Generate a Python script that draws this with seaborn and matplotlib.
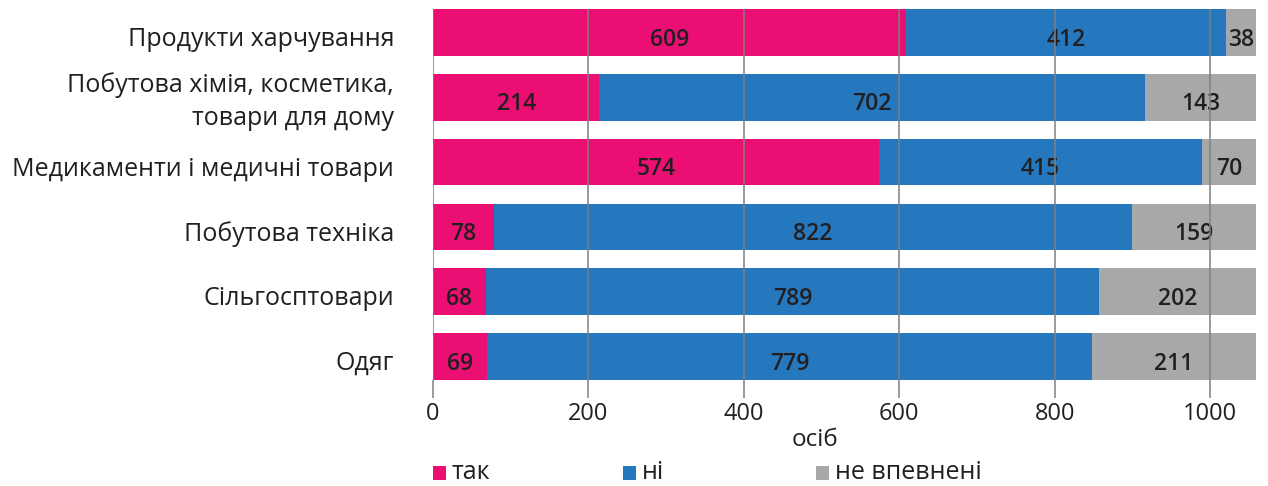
import numpy as np
import pandas as pd
import matplotlib
matplotlib.use("Agg")
import matplotlib.pyplot as plt
import matplotlib.transforms as mtransforms
from matplotlib.patches import Rectangle
import seaborn as sns

categories = ["Продукти харчування", "Побутова хімія, косметика,\nтовари для дому",
              "Медикаменти і медичні товари", "Побутова техніка", "Сільгосптовари", "Одяг"]
yes_vals = [609, 214, 574, 78, 68, 69]
no_vals = [412, 702, 415, 822, 789, 779]
unsure_vals = [38, 143, 70, 159, 202, 211]
series_names = ["так", "ні", "не впевнені"]
colors = ["#EC0F73", "#2577BE", "#A8A8AB"]
x_ticks = [0, 200, 400, 600, 800, 1000]

sns.set_theme(style="white")
plt.rcParams['font.family'] = ['Open Sans', 'DejaVu Sans']
TXT = "#231F20"

df = pd.DataFrame({"cat": categories, "yes": yes_vals, "no": no_vals, "unsure": unsure_vals})
df["c1"] = df["yes"]
df["c2"] = df["yes"] + df["no"]
df["c3"] = df["c2"] + df["unsure"]

fig = plt.figure(figsize=(12.68, 4.86), dpi=100)
ax = fig.add_axes([433/1268, 1-379.8/486, (1256-433)/1268, (379.8-9.2)/486])

for col, c in zip(["c3", "c2", "c1"], colors[::-1]):
    sns.barplot(data=df, y="cat", x=col, color=c, orient="h", width=0.72,
                saturation=1, ax=ax, zorder=1, linewidth=0)

down = mtransforms.ScaledTranslation(0, -3/72, fig.dpi_scale_trans)
for i, row in df.iterrows():
    for left, v in [(0, row["yes"]), (row["c1"], row["no"]), (row["c2"], row["unsure"])]:
        ax.text(left + v / 2, i, str(v), ha="center", va="center_baseline", fontsize=16.5,
                fontweight="semibold", color=TXT, zorder=2, transform=ax.transData + down)

ax.set_xlim(0, df["c3"].max())
ax.set_ylim(len(categories) - 1 + 0.36, -0.36)
ax.set_xticks(x_ticks)
ax.set_xticklabels([str(t) for t in x_ticks], fontsize=17, color=TXT)
ax.set_yticks(range(len(categories)))
ax.set_yticklabels(categories, fontsize=18, color=TXT, linespacing=1.4)
ax.tick_params(axis="y", length=0, pad=28)
ax.tick_params(axis="x", length=13, width=1.1, color="#808080", pad=3, bottom=True)
ax.grid(axis="x", color="#808080", linewidth=1.1, zorder=3)
ax.grid(axis="y", visible=False)
ax.set_axisbelow(False)
for s in ax.spines.values():
    s.set_visible(False)
ax.set_ylabel("")
ax.set_xlabel("")
for t in ax.get_yticklabels():
    t.set_ha("right")
    if "\n" in t.get_text():
        t.set_va("center")
    else:
        t.set_va("center_baseline")
    t.set_transform(t.get_transform() + down)

fig.text(815/1268, 1-440/486, "осіб", ha="center", va="center", fontsize=17.5, color=TXT)

leg_x = [433, 623, 816]
for x, name, c in zip(leg_x, series_names, colors):
    fig.patches.append(Rectangle((x/1268, 1-480/486), 13/1268, 14/486, transform=fig.transFigure,
                                 facecolor=c, edgecolor="none"))
    fig.text((x+19)/1268, 1-472/486, name, ha="left", va="center", fontsize=18, color=TXT)

fig.savefig("out.png", dpi=100)
